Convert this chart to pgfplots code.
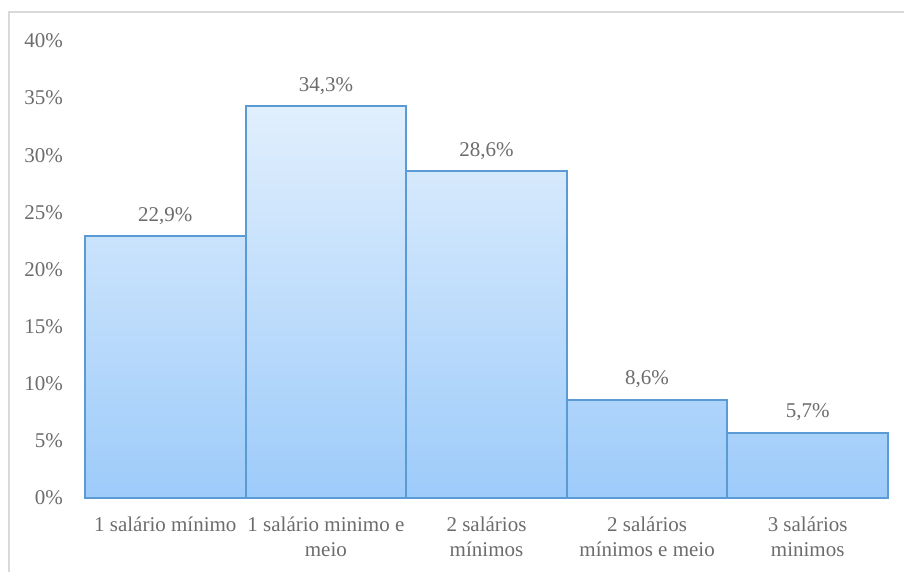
\documentclass[border=0pt]{standalone}
\usepackage{pgfplots}
\pgfplotsset{compat=1.18}
\usepackage{fontspec}
\setmainfont{Liberation Serif}
\definecolor{txt}{RGB}{108,108,108}
\definecolor{barline}{RGB}{91,155,213}
\definecolor{bartop}{RGB}{225,239,253}
\definecolor{barbot}{RGB}{157,203,250}
\definecolor{frame}{RGB}{217,217,217}
\begin{document}
\fontsize{21}{25}\selectfont
\begin{tikzpicture}[x=1pt,y=1pt]
\path[use as bounding box] (-85,-74) rectangle (819,498);
\draw[frame, line width=1.5pt] (-76,-90) -- (-76,486) -- (840,486);
\begin{axis}[
  at={(0,0)}, anchor=south west,
  scale only axis, width=803pt, height=457pt,
  xmin=-0.5, xmax=4.5, ymin=0, ymax=40,
  /pgf/number format/assume math mode=true,
  ybar, bar width=1, bar shift=0pt,
  axis x line*=bottom, axis y line*=left,
  y axis line style={draw=none},
  x axis line style={draw=frame, line width=2pt, -},
  major tick length=0pt,
  ytick={0,5,...,40},
  yticklabel={\pgfmathprintnumber{\tick}\%},
  yticklabel style={font=\fontsize{21}{25}\selectfont, text=txt, anchor=east, inner sep=0pt, xshift=-22pt},
  xtick={0,1,2,3,4},
  xticklabels={{1 salário mínimo},{1 salário minimo e\\meio},{2 salários\\mínimos},{2 salários\\mínimos e meio},{3 salários\\minimos}},
  xticklabel style={font=\fontsize{21}{25}\selectfont, text=txt, align=center, anchor=north, inner sep=0pt, yshift=-19pt},
  nodes near coords={\pgfmathprintnumber[use comma, fixed, fixed zerofill, precision=1, assume math mode=true]{\pgfplotspointmeta}\%},
  nodes near coords style={font=\fontsize{21}{25}\selectfont, text=txt, anchor=base, yshift=15pt},
  clip=false,
]
\addplot[draw=barline, line width=2pt, top color=bartop, bottom color=barbot] coordinates {(0,22.9) (1,34.3) (2,28.6) (3,8.6) (4,5.7)};
\end{axis}
\end{tikzpicture}
\end{document}
